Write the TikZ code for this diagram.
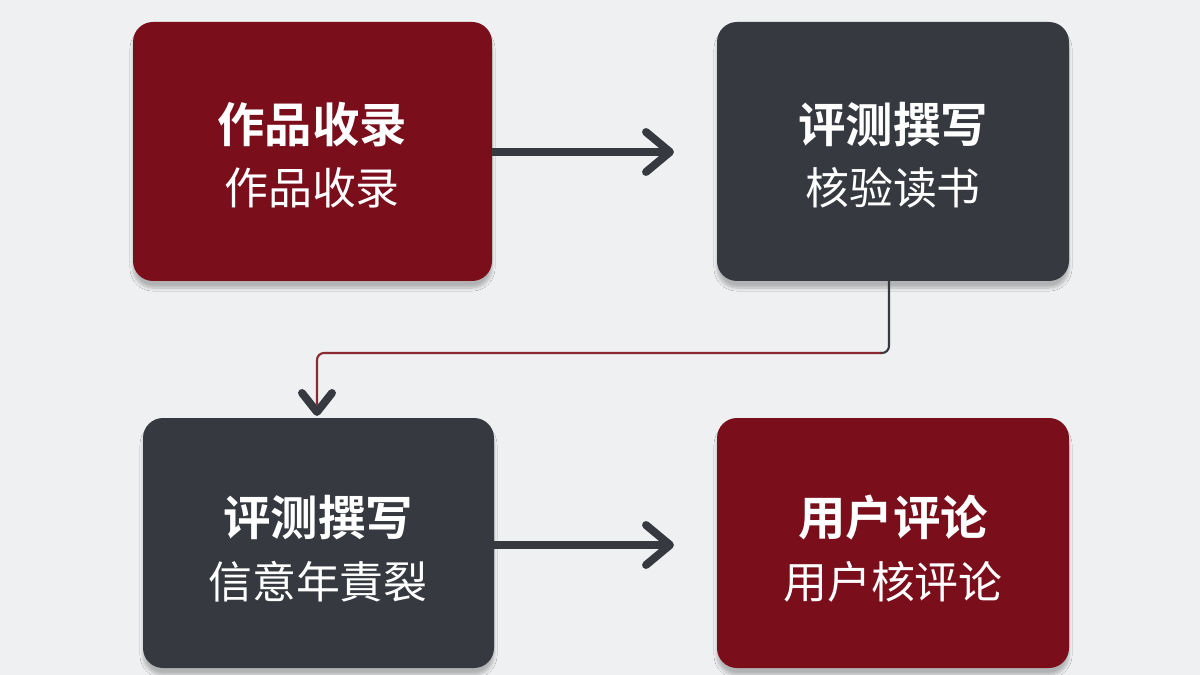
\documentclass[tikz,border=0pt]{standalone}
\usepackage{fontspec}
\newfontfamily\cjk{Noto Sans CJK SC}
\newfontfamily\cjkb{Noto Sans CJK SC Bold}
\usetikzlibrary{shadows.blur}
\definecolor{bg}{HTML}{EEF0F1}
\definecolor{boxred}{HTML}{7A0E1B}
\definecolor{boxdark}{HTML}{363A40}
\definecolor{linered}{HTML}{8A2A30}
\begin{document}
\begin{tikzpicture}[x=0.02cm,y=-0.02cm,
  box/.style={rounded corners=0.4cm,inner sep=0pt,blur shadow={shadow blur steps=8,shadow xshift=0pt,shadow yshift=-4pt,shadow opacity=25}},
  ttl/.style={font=\cjkb\fontsize{27}{32}\selectfont,text=white},
  sub/.style={font=\cjk\fontsize{25}{30}\selectfont,text=white},
  shaft/.style={line width=4pt,color=boxdark},
  chev/.style={line width=4.5pt,color=boxdark,line cap=round,line join=round}]
\fill[bg] (0,0) rectangle (1200,675);
\useasboundingbox (0,0) rectangle (1200,675);
\fill[boxred,box] (133,22) rectangle (492,281);
\fill[boxdark,box] (717,22) rectangle (1069,281);
\fill[boxdark,box] (143,418) rectangle (494,668);
\fill[boxred,box] (717,418) rectangle (1069,668);
\node[ttl] (t1) at (312,125) {作品收录};
\node[sub] (s1) at (312,188) {作品收录};
\node[ttl] (t2) at (893,125) {评测撰写};
\node[sub] (s2) at (893,188) {核验读书};
\node[ttl] (t3) at (318,518) {评测撰写};
\node[sub] (s3) at (318,582) {信意年責裂};
\node[ttl] (t4) at (893,518) {用户评论};
\node[sub] (s4) at (893,582) {用户核评论};
\coordinate (a1s) at (492,152); \coordinate (a1e) at (670,152);
\coordinate (a2s) at (494,545); \coordinate (a2e) at (670,545);
\draw[shaft] (a1s) -- (668,152);
\draw[chev] (646,132) -- (a1e) -- (646,172);
\draw[shaft] (a2s) -- (668,545);
\draw[chev] (646,525) -- (a2e) -- (646,565);
\coordinate (c0) at (889,281); \coordinate (c1) at (889,353);
\coordinate (c2) at (317,353); \coordinate (c3) at (317,412);
\draw[boxdark,line width=1.2pt,rounded corners=4pt] (c0) -- (c1) -- (880,353);
\draw[linered,line width=1.2pt,rounded corners=4pt] (881,353) -- (c2) -- (317,405);
\draw[chev] (302,393) -- (c3) -- (332,393);
\end{tikzpicture}
\end{document}
